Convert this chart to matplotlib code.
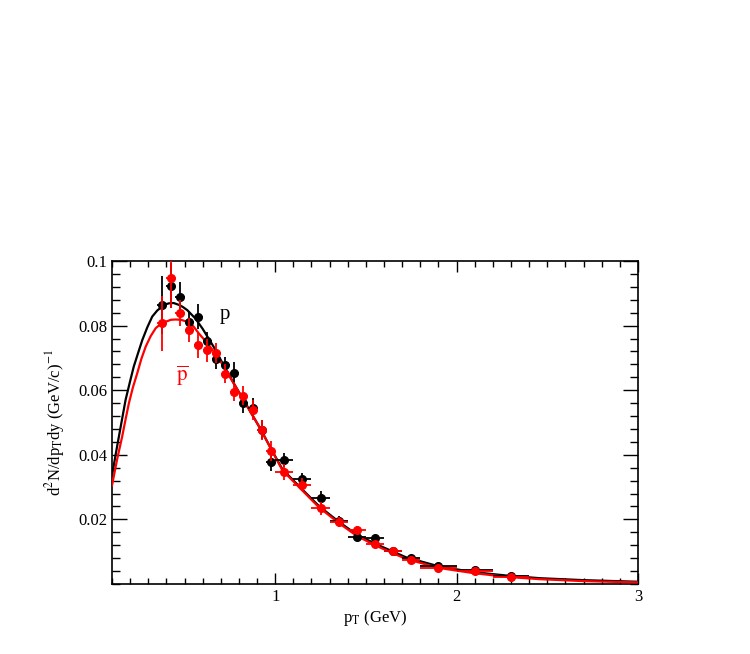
import numpy as np
from matplotlib import pyplot as plt
from matplotlib.ticker import MultipleLocator

plt.rcParams['font.family'] = ['Liberation Serif', 'DejaVu Serif']
plt.rcParams['mathtext.fontset'] = 'stix'

# proton data points (p_T bin centres, yields, errors)
p_pt = [0.375, 0.425, 0.475, 0.525, 0.575, 0.625, 0.675, 0.725, 0.775, 0.825,
        0.875, 0.925, 0.975, 1.05, 1.15, 1.25, 1.35, 1.45, 1.55, 1.65, 1.75,
        1.9, 2.1, 2.3]
p_y = [0.0864, 0.0923, 0.0890, 0.0812, 0.0828, 0.0751, 0.0697, 0.0678, 0.0652,
       0.0560, 0.0545, 0.0478, 0.0379, 0.0384, 0.0325, 0.0267, 0.0196, 0.0146,
       0.0141, 0.0102, 0.0080, 0.0057, 0.0042, 0.0026]
p_yerr = [0.009, 0.007, 0.0045, 0.003, 0.004, 0.003, 0.003, 0.0025, 0.0035,
          0.003, 0.003, 0.003, 0.003, 0.0022, 0.002, 0.002, 0.0015, 0.0012,
          0.001, 0.001, 0.0008, 0.0007, 0.0006, 0.0005]

# antiproton data points
pbar_pt = p_pt
pbar_y = [0.0807, 0.0948, 0.0838, 0.0786, 0.0740, 0.0724, 0.0715, 0.0651,
          0.0596, 0.0583, 0.0539, 0.0477, 0.0412, 0.0347, 0.0307, 0.0234,
          0.0193, 0.0168, 0.0124, 0.0103, 0.0074, 0.0049, 0.0041, 0.0021]
pbar_yerr = [0.0085, 0.0095, 0.004, 0.0037, 0.004, 0.0036, 0.003, 0.003,
             0.003, 0.003, 0.003, 0.003, 0.003, 0.0025, 0.002, 0.002, 0.0015,
             0.0012, 0.001, 0.001, 0.0008, 0.0007, 0.0006, 0.0005]

# bin half widths
pt_xerr = [0.025] * 13 + [0.05] * 8 + [0.1] * 3

# fit curves
p_fit_x = [0.1, 0.12, 0.138, 0.175, 0.2, 0.22, 0.245, 0.267, 0.295, 0.322,
           0.35, 0.377, 0.395, 0.415, 0.44, 0.47, 0.49, 0.515, 0.56, 0.6,
           0.66, 0.72, 0.77, 0.82, 0.87, 0.92, 0.975, 1.04, 1.14, 1.24, 1.35,
           1.45, 1.55, 1.72, 1.9, 2.09, 2.28, 2.46, 2.7, 3.0]
p_fit_y = [0.0335, 0.0400, 0.0456, 0.0570, 0.0628, 0.0673, 0.0717, 0.0755,
           0.0795, 0.0828, 0.0847, 0.0859, 0.0866, 0.0869, 0.0870, 0.0864,
           0.0858, 0.0848, 0.0822, 0.0790, 0.0735, 0.0673, 0.0623, 0.0575,
           0.0527, 0.0479, 0.0421, 0.0355, 0.0298, 0.0242, 0.0193, 0.0153,
           0.0125, 0.0083, 0.0055, 0.0037, 0.0026, 0.0018, 0.0012, 0.0007]
pbar_fit_x = [0.1, 0.128, 0.156, 0.175, 0.193, 0.215, 0.239, 0.262, 0.286,
              0.313, 0.341, 0.368, 0.396, 0.425, 0.451, 0.48, 0.515, 0.55,
              0.58, 0.625, 0.67, 0.72, 0.77, 0.82, 0.87, 0.92, 0.975, 1.04,
              1.14, 1.24, 1.35, 1.45, 1.55, 1.72, 1.9, 2.09, 2.28, 2.46, 2.7,
              3.0]
pbar_fit_y = [0.0305, 0.0385, 0.0456, 0.0510, 0.0559, 0.0608, 0.0652, 0.0697,
              0.0735, 0.0767, 0.0792, 0.0805, 0.0812, 0.0818, 0.0819, 0.0818,
              0.0812, 0.0797, 0.0775, 0.0746, 0.0714, 0.0670, 0.0622, 0.0575,
              0.0527, 0.0479, 0.0420, 0.0352, 0.0295, 0.0238, 0.0189, 0.0149,
              0.0120, 0.0078, 0.0050, 0.0034, 0.0022, 0.0015, 0.0009, 0.0005]

fig = plt.figure(figsize=(7.5, 6.54), dpi=100)
ax = fig.add_axes([0.1493, 0.107, 0.7013, 0.4939])

ax.plot(p_fit_x, p_fit_y, color='black', lw=1.6, zorder=2)
ax.plot(pbar_fit_x, pbar_fit_y, color='red', lw=1.6, zorder=3)

ax.errorbar(p_pt, p_y, yerr=p_yerr, xerr=pt_xerr, fmt='o', color='black',
            ms=5.5, elinewidth=1.3, capsize=0, zorder=4)
ax.errorbar(pbar_pt, pbar_y, yerr=pbar_yerr, xerr=pt_xerr, fmt='o', color='red',
            ms=5.5, elinewidth=1.3, capsize=0, zorder=5)

ax.text(0.72, 0.0835, 'p', fontsize=15, color='black', ha='center', va='center')
ax.text(0.49, 0.0645, r'$\overline{\mathrm{p}}$', fontsize=15, color='red',
        ha='center', va='center')

ax.set_xlim(0.1, 3.0)
ax.set_ylim(0, 0.1)
ax.xaxis.set_major_locator(MultipleLocator(1))
ax.xaxis.set_minor_locator(MultipleLocator(0.1))
ax.yaxis.set_major_locator(MultipleLocator(0.02))
ax.yaxis.set_minor_locator(MultipleLocator(0.004))
ax.set_xticks([1, 2, 3])
ax.set_xticklabels(['1', '2', '3'])
ax.set_yticks([0.02, 0.04, 0.06, 0.08, 0.1])
ax.set_yticklabels(['0.02', '0.04', '0.06', '0.08', '0.1'])

ax.tick_params(which='both', direction='in', top=True, right=True, width=1,
               labelsize=12)
ax.tick_params(axis='y', which='major', length=11)
ax.tick_params(axis='y', which='minor', length=6)
ax.tick_params(axis='x', which='major', length=8)
ax.tick_params(axis='x', which='minor', length=4.5)
for s in ax.spines.values():
    s.set_linewidth(1.2)

ax.set_xlabel(r'p$_\mathrm{T}$ (GeV)', fontsize=12, labelpad=2)
ax.set_ylabel(r'd$^2$N/dp$_\mathrm{T}$dy (GeV/c)$^{-1}$', fontsize=12, labelpad=8)

plt.savefig('out.png', dpi=100)
